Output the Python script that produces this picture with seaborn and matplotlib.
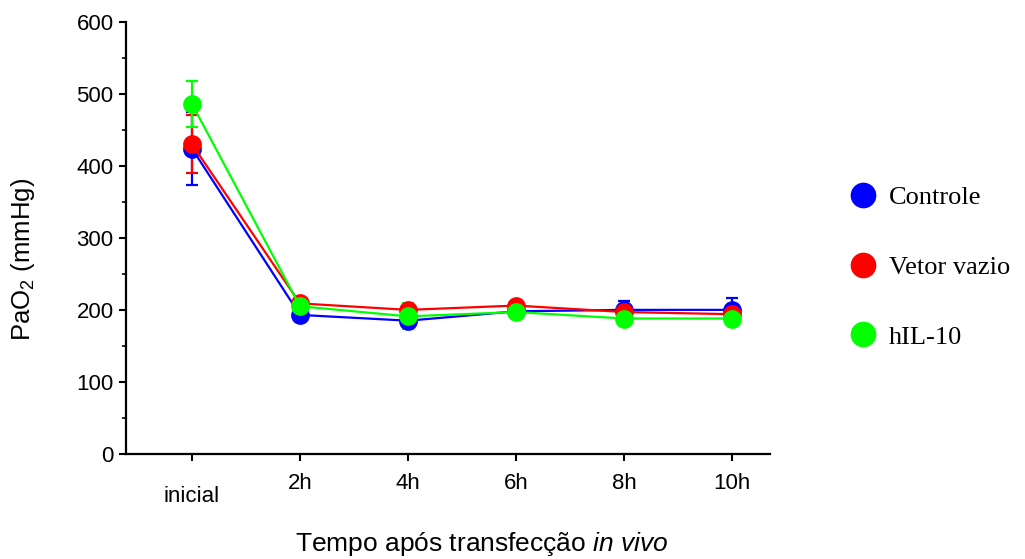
import numpy as np
import pandas as pd
import matplotlib
matplotlib.use("Agg")
import matplotlib.pyplot as plt
import matplotlib.transforms as mtransforms
from matplotlib.lines import Line2D
import seaborn as sns

# ---- data ----
time_labels = ["inicial", "2h", "4h", "6h", "8h", "10h"]
groups = ["Controle", "Vetor vazio", "hIL-10"]
controle = [424, 193, 185, 198, 200, 200]
controle_err = [51, 6, 8, 5, 13, 16]
vetor = [430, 209, 200, 206, 197, 194]
vetor_err = [40, 6, 7, 6, 6, 6]
hil10 = [486, 205, 191, 197, 188, 188]
hil10_err = [32, 6, 18, 5, 5, 5]
colors = ["#0000FF", "#FF0000", "#00FF00"]

sns.set_theme(style="ticks")
plt.rcParams["font.family"] = ["Liberation Sans", "DejaVu Sans"]
plt.rcParams["mathtext.fontset"] = "custom"
plt.rcParams["mathtext.rm"] = "Liberation Sans"
plt.rcParams["mathtext.it"] = "Liberation Sans:italic"
plt.rcParams["text.color"] = "black"
plt.rcParams["axes.labelcolor"] = "black"
plt.rcParams["xtick.color"] = "black"
plt.rcParams["ytick.color"] = "black"

fig = plt.figure(figsize=(10.25, 5.59), dpi=100)
ax = fig.add_axes([0.123, 0.188, 0.628, 0.773])

pos = list(range(len(time_labels)))
rows = []
for g, vals in zip(groups, [controle, vetor, hil10]):
    for p, v in zip(pos, vals):
        rows.append({"pos": p, "PaO2": v, "grupo": g})
df = pd.DataFrame(rows)

for g, vals, errs, c in zip(groups, [controle, vetor, hil10],
                            [controle_err, vetor_err, hil10_err], colors):
    ax.errorbar(pos, vals, yerr=errs, fmt="none", ecolor=c, elinewidth=1.6,
                capsize=4, capthick=1.6, zorder=2)
    sns.lineplot(data=df[df["grupo"] == g], x="pos", y="PaO2", color=c,
                 marker="o", markersize=13.5, markeredgewidth=0,
                 linewidth=1.6, ax=ax, legend=False, zorder=3)

ax.set_ylim(0, 600)
ax.set_xlim(-0.61, 5.35)
ax.set_yticks(np.arange(0, 601, 100))
ax.set_yticks(np.arange(50, 600, 100), minor=True)
ax.set_xticks(pos)
ax.set_xticklabels(time_labels)
ax.tick_params(axis="both", which="major", labelsize=16, length=5, width=1.5,
               colors="black", direction="out")
ax.tick_params(axis="y", which="minor", length=3, width=1.2, colors="black")
ax.tick_params(axis="x", pad=9)
ax.tick_params(axis="y", pad=4)
# shift "inicial" label slightly lower
lbl = ax.get_xticklabels()[0]
lbl.set_transform(lbl.get_transform() +
                  mtransforms.ScaledTranslation(0, -13 / 100, fig.dpi_scale_trans))

for s in ["top", "right"]:
    ax.spines[s].set_visible(False)
for s in ["left", "bottom"]:
    ax.spines[s].set_linewidth(1.6)
    ax.spines[s].set_color("black")

ax.set_ylabel(r"PaO$_2$ (mmHg)", fontsize=18.5)
ax.yaxis.set_label_coords(-0.138, 0.45)
ax.set_xlabel("Tempo após transfecção $\\it{in\\ vivo}$", fontsize=19)
ax.xaxis.set_label_coords(0.553, -0.175)

handles = [Line2D([0], [0], marker="o", linestyle="none", markersize=18.5,
                  markerfacecolor=c, markeredgewidth=0) for c in colors]
fig.legend(handles, groups, loc="center left", bbox_to_anchor=(0.816, 0.522),
           bbox_transform=fig.transFigure, frameon=False,
           prop={"family": "Liberation Serif", "size": 19},
           labelspacing=1.75, handletextpad=0.5, borderpad=0, handlelength=1.0)

fig.savefig("out.png", dpi=100)
